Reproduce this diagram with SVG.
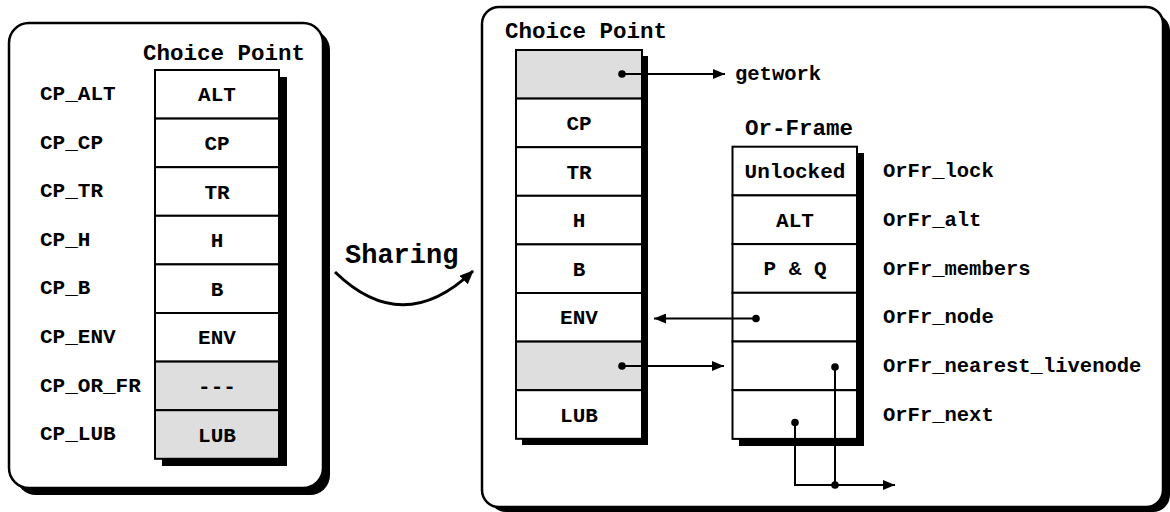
<svg xmlns="http://www.w3.org/2000/svg" width="1170" height="512" viewBox="0 0 1170 512">
  <defs>
    <style>
      text { font-family: "Liberation Mono", "Courier New", monospace; font-weight: bold; fill: #000; }
      .title { font-size: 22.5px; }
      .lbl { font-size: 21px; }
      .cell-t { font-size: 21px; text-anchor: middle; }
      .orfr { font-size: 20.5px; }
      .panel { fill: #fff; stroke: #000; stroke-width: 2.5; }
      .panel-shadow { fill: #000; }
      .cell { fill: #fff; stroke: #000; stroke-width: 2; }
      .cell.gray { fill: #dedede; }
      .shadow { fill: #000; }
      .wire { fill: none; stroke: #000; stroke-width: 2; }
      .dot { fill: #000; }
    </style>
    <marker id="arrow" viewBox="0 0 12 10" refX="12" refY="5" markerWidth="12" markerHeight="10" markerUnits="userSpaceOnUse" orient="auto">
      <path d="M0,0 L12,5 L0,10 Z" fill="#000"/>
    </marker>
    <marker id="arrow-big" viewBox="0 0 14 12" refX="13" refY="6" markerWidth="14" markerHeight="12" markerUnits="userSpaceOnUse" orient="auto">
      <path d="M0,0 L14,6 L0,12 Z" fill="#000"/>
    </marker>
  </defs>

  <!-- Left panel: plain choice point -->
  <g id="panel-left">
    <rect class="panel-shadow" x="16" y="30" width="314" height="465" rx="20" ry="20"/>
    <rect class="panel" x="9" y="23" width="314" height="465" rx="20" ry="20"/>
  </g>

  <g id="choice-point-left">
    <text class="title" x="143" y="60">Choice Point</text>
    <rect class="shadow" x="162" y="77" width="125" height="389"/>
    <rect class="cell" x="155" y="70" width="124" height="48.6"/>
    <rect class="cell" x="155" y="118.6" width="124" height="48.6"/>
    <rect class="cell" x="155" y="167.2" width="124" height="48.6"/>
    <rect class="cell" x="155" y="215.8" width="124" height="48.6"/>
    <rect class="cell" x="155" y="264.4" width="124" height="48.6"/>
    <rect class="cell" x="155" y="313" width="124" height="48.6"/>
    <rect class="cell gray" x="155" y="361.6" width="124" height="48.6"/>
    <rect class="cell gray" x="155" y="410.2" width="124" height="48.6"/>
    <text class="cell-t" x="217" y="101.3">ALT</text>
    <text class="cell-t" x="217" y="149.9">CP</text>
    <text class="cell-t" x="217" y="198.5">TR</text>
    <text class="cell-t" x="217" y="247.1">H</text>
    <text class="cell-t" x="217" y="295.7">B</text>
    <text class="cell-t" x="217" y="344.3">ENV</text>
    <text class="cell-t" x="217" y="392.9">---</text>
    <text class="cell-t" x="217" y="441.5">LUB</text>
    <text class="lbl" x="40" y="100">CP_ALT</text>
    <text class="lbl" x="40" y="148.6">CP_CP</text>
    <text class="lbl" x="40" y="197.2">CP_TR</text>
    <text class="lbl" x="40" y="245.8">CP_H</text>
    <text class="lbl" x="40" y="294.4">CP_B</text>
    <text class="lbl" x="40" y="343">CP_ENV</text>
    <text class="lbl" x="40" y="391.6">CP_OR_FR</text>
    <text class="lbl" x="40" y="440.2">CP_LUB</text>
  </g>

  <!-- Sharing transition -->
  <g id="sharing">
    <text x="345" y="263" style="font-size:27px">Sharing</text>
  </g>

  <!-- Right panel: shared choice point with its or-frame -->
  <g id="panel-right">
    <rect class="panel-shadow" x="489" y="14" width="681" height="498" rx="17" ry="17"/>
    <rect class="panel" x="482" y="7" width="681" height="500" rx="17" ry="17"/>
  </g>

  <g id="choice-point-right">
    <text class="title" x="505" y="38">Choice Point</text>
    <rect class="shadow" x="522" y="56" width="126" height="389"/>
    <rect class="cell gray" x="516" y="50" width="126" height="48.6"/>
    <rect class="cell" x="516" y="98.6" width="126" height="48.6"/>
    <rect class="cell" x="516" y="147.2" width="126" height="48.6"/>
    <rect class="cell" x="516" y="195.8" width="126" height="48.6"/>
    <rect class="cell" x="516" y="244.4" width="126" height="48.6"/>
    <rect class="cell" x="516" y="293" width="126" height="48.6"/>
    <rect class="cell gray" x="516" y="341.6" width="126" height="48.6"/>
    <rect class="cell" x="516" y="390.2" width="126" height="48.6"/>
    <text class="cell-t" x="579" y="129.9">CP</text>
    <text class="cell-t" x="579" y="178.5">TR</text>
    <text class="cell-t" x="579" y="227.1">H</text>
    <text class="cell-t" x="579" y="275.7">B</text>
    <text class="cell-t" x="579" y="324.3">ENV</text>
    <text class="cell-t" x="579" y="421.5">LUB</text>
  </g>

  <g id="getwork">
    <text x="735" y="80" style="font-size:20.5px">getwork</text>
  </g>

  <g id="or-frame">
    <text class="title" x="745" y="135">Or-Frame</text>
    <rect class="shadow" x="739" y="153" width="125" height="293"/>
    <rect class="cell" x="732.5" y="146.7" width="124.5" height="48.7"/>
    <rect class="cell" x="732.5" y="195.4" width="124.5" height="48.7"/>
    <rect class="cell" x="732.5" y="244.1" width="124.5" height="48.7"/>
    <rect class="cell" x="732.5" y="292.8" width="124.5" height="48.7"/>
    <rect class="cell" x="732.5" y="341.5" width="124.5" height="48.7"/>
    <rect class="cell" x="732.5" y="390.2" width="124.5" height="48.7"/>
    <text class="cell-t" x="795" y="178">Unlocked</text>
    <text class="cell-t" x="795" y="226.7">ALT</text>
    <text class="cell-t" x="795" y="275.4">P &amp; Q</text>
    <text class="orfr" x="883" y="177.3">OrFr_lock</text>
    <text class="orfr" x="883" y="226">OrFr_alt</text>
    <text class="orfr" x="883" y="274.7">OrFr_members</text>
    <text class="orfr" x="883" y="323.4">OrFr_node</text>
    <text class="orfr" x="883" y="372.3">OrFr_nearest_livenode</text>
    <text class="orfr" x="883" y="421">OrFr_next</text>
  </g>

  <!-- Pointers between the structures -->
  <g id="connectors">
    <path class="wire" d="M335,272 Q403,338 473,271" style="stroke-width:3" marker-end="url(#arrow-big)"/>
    <circle class="dot" cx="622" cy="74" r="3.8"/>
    <path class="wire" d="M622,74 H725" marker-end="url(#arrow)"/>
    <circle class="dot" cx="756" cy="318.5" r="3.8"/>
    <path class="wire" d="M756,318.5 H654" marker-end="url(#arrow)"/>
    <circle class="dot" cx="622" cy="366" r="3.8"/>
    <path class="wire" d="M622,366 H724" marker-end="url(#arrow)"/>
    <circle class="dot" cx="835" cy="367" r="3.8"/>
    <path class="wire" d="M835,367 V485"/>
    <circle class="dot" cx="795" cy="422.5" r="3.8"/>
    <path class="wire" d="M795,422.5 V485 H895" marker-end="url(#arrow)"/>
    <circle class="dot" cx="835" cy="485" r="3.8"/>
  </g>
</svg>
